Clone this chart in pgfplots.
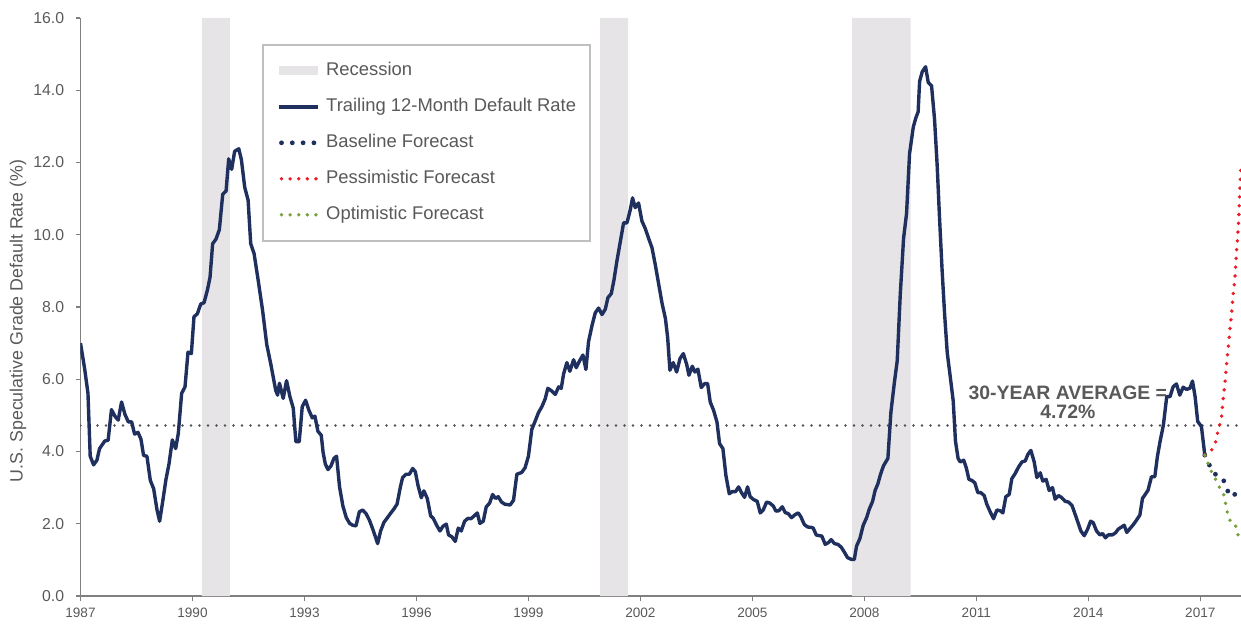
\documentclass[border=0pt]{standalone}
\usepackage{pgfplots}
\pgfplotsset{compat=1.18}
\usepackage{fontspec}
\setmainfont{Liberation Sans}
\definecolor{navy}{RGB}{31,48,94}
\definecolor{txtgray}{RGB}{89,89,89}
\definecolor{recgray}{RGB}{230,228,230}
\definecolor{fred}{RGB}{237,28,36}
\definecolor{fgreen}{RGB}{122,160,60}
\definecolor{lgdgray}{RGB}{191,191,191}
\definecolor{axgray}{RGB}{128,128,128}
\definecolor{avggray}{RGB}{80,80,80}
\begin{document}
\begin{tikzpicture}
\useasboundingbox (-40.25pt,-15pt) rectangle (580.25pt,298pt);
\begin{axis}[
  scale only axis, width=580.25pt, height=289pt,
  xmin=1987, xmax=2018.09, ymin=0, ymax=16,
  axis x line*=bottom, axis y line*=left,
  axis line style={axgray, line width=0.8pt, -},
  tick align=outside, major tick length=2.5pt,
  tick style={axgray, line width=0.6pt},
  xtick={1987,1990,1993,1996,1999,2002,2005,2008,2011,2014,2017},
  ytick={0,2,4,6,8,10,12,14,16},
  x tick label style={/pgf/number format/1000 sep={}, font=\fontsize{6.8}{8}\selectfont, text=txtgray},
  y tick label style={/pgf/number format/.cd, fixed, fixed zerofill, precision=1, /tikz/.cd, font=\fontsize{7.9}{9}\selectfont, text=txtgray, xshift=-2.2pt},
  /pgf/number format/assume math mode=true,
  ylabel={U.S. Speculative Grade Default Rate (\%)},
  ylabel style={at={(axis description cs:-0.0539,0.476)}, anchor=center, font=\fontsize{8.9}{10}\selectfont, text=txtgray},
  legend style={at={(0.1564,0.955)}, anchor=north west, draw=lgdgray, line width=0.8pt,
    font=\fontsize{9.2}{11}\selectfont, text=txtgray, inner xsep=7pt, inner ysep=8.5pt,
    row sep=9pt, nodes={inner sep=0pt, text height=7pt, text depth=2pt},
    /tikz/every odd column/.append style={column sep=3.5pt}},
  legend cell align=left,
  legend columns=1,
]
% recession bands
\addplot[fill=recgray, draw=none, legend image code/.code={\fill[recgray] (0pt,-2.2pt) rectangle (19.5pt,2.2pt);}]
  coordinates {(1990.25,0) (1990.25,16) (1991.0,16) (1991.0,0)} \closedcycle;
\addlegendentry{Recession}
\addplot[fill=recgray, draw=none, forget plot] coordinates {(2000.92,0) (2000.92,16) (2001.67,16) (2001.67,0)} \closedcycle;
\addplot[fill=recgray, draw=none, forget plot] coordinates {(2007.67,0) (2007.67,16) (2009.24,16) (2009.24,0)} \closedcycle;
% 30-year average
\addplot[avggray, line width=1.4pt, line cap=round, dash pattern=on 0pt off 4.25pt, forget plot] coordinates {(1987,4.72) (2018.09,4.72)};
% trailing 12-month default rate
\addplot[navy, line width=1.7pt, line join=round, legend image code/.code={\draw[navy, line width=1.7pt] (0pt,0pt) -- (19.5pt,0pt);}] table {
1987.00 7.00
1987.11 6.30
1987.20 5.61
1987.26 3.87
1987.35 3.63
1987.44 3.76
1987.51 4.08
1987.65 4.29
1987.74 4.31
1987.83 5.16
1987.92 4.98
1988.01 4.87
1988.10 5.37
1988.19 5.03
1988.28 4.82
1988.37 4.82
1988.45 4.48
1988.54 4.53
1988.62 4.34
1988.69 3.89
1988.78 3.87
1988.87 3.20
1988.96 2.97
1989.05 2.38
1989.12 2.07
1989.20 2.60
1989.29 3.23
1989.37 3.65
1989.46 4.32
1989.55 4.08
1989.62 4.50
1989.71 5.61
1989.80 5.79
1989.88 6.75
1989.97 6.71
1990.04 7.73
1990.13 7.81
1990.22 8.08
1990.31 8.12
1990.40 8.47
1990.47 8.82
1990.54 9.75
1990.63 9.88
1990.72 10.14
1990.81 11.12
1990.90 11.21
1990.97 12.10
1991.05 11.81
1991.13 12.31
1991.24 12.38
1991.31 12.08
1991.40 11.31
1991.49 10.96
1991.56 9.75
1991.65 9.48
1991.76 8.74
1991.88 7.89
1991.99 6.96
1992.10 6.41
1992.23 5.69
1992.28 5.56
1992.33 5.89
1992.43 5.47
1992.52 5.96
1992.61 5.52
1992.70 5.20
1992.77 4.27
1992.86 4.27
1992.94 5.24
1993.03 5.42
1993.12 5.14
1993.21 4.93
1993.28 4.98
1993.36 4.56
1993.45 4.45
1993.50 3.97
1993.56 3.65
1993.63 3.50
1993.71 3.60
1993.79 3.81
1993.86 3.87
1993.94 3.02
1994.03 2.49
1994.12 2.17
1994.21 2.01
1994.29 1.96
1994.38 1.94
1994.47 2.33
1994.56 2.38
1994.65 2.28
1994.74 2.10
1994.83 1.85
1994.90 1.64
1994.96 1.45
1995.04 1.80
1995.13 2.04
1995.21 2.15
1995.30 2.28
1995.39 2.40
1995.48 2.54
1995.57 3.02
1995.63 3.28
1995.72 3.37
1995.81 3.37
1995.90 3.53
1995.97 3.44
1996.04 3.07
1996.13 2.72
1996.20 2.91
1996.29 2.70
1996.38 2.22
1996.45 2.15
1996.54 1.96
1996.63 1.80
1996.71 1.93
1996.80 1.99
1996.86 1.69
1996.95 1.64
1997.04 1.51
1997.12 1.88
1997.20 1.80
1997.29 2.07
1997.38 2.15
1997.46 2.14
1997.55 2.22
1997.63 2.30
1997.70 2.01
1997.79 2.07
1997.87 2.47
1997.96 2.57
1998.04 2.81
1998.12 2.70
1998.19 2.75
1998.28 2.60
1998.37 2.54
1998.51 2.52
1998.60 2.65
1998.69 3.37
1998.82 3.42
1998.91 3.55
1999.00 3.87
1999.09 4.61
1999.18 4.84
1999.27 5.08
1999.36 5.24
1999.45 5.46
1999.52 5.75
1999.63 5.67
1999.72 5.58
1999.81 5.79
1999.88 5.75
1999.94 6.14
2000.03 6.46
2000.11 6.22
2000.21 6.54
2000.28 6.32
2000.37 6.51
2000.46 6.67
2000.54 6.27
2000.61 7.04
2000.70 7.47
2000.79 7.84
2000.88 7.97
2000.97 7.79
2001.06 7.94
2001.13 8.26
2001.22 8.37
2001.29 8.74
2001.37 9.27
2001.46 9.80
2001.55 10.33
2001.64 10.33
2001.73 10.70
2001.79 11.02
2001.86 10.75
2001.95 10.88
2002.04 10.38
2002.13 10.17
2002.22 9.90
2002.31 9.64
2002.40 9.16
2002.49 8.63
2002.58 8.10
2002.67 7.68
2002.73 7.15
2002.79 6.25
2002.88 6.46
2002.97 6.20
2003.06 6.57
2003.15 6.71
2003.24 6.41
2003.30 6.11
2003.39 6.36
2003.46 6.20
2003.54 6.28
2003.63 5.77
2003.72 5.88
2003.80 5.88
2003.87 5.37
2003.96 5.14
2004.05 4.82
2004.12 4.22
2004.21 4.08
2004.29 3.34
2004.38 2.83
2004.46 2.89
2004.55 2.89
2004.63 3.02
2004.71 2.86
2004.79 2.73
2004.87 3.02
2004.94 2.75
2005.03 2.67
2005.13 2.62
2005.21 2.30
2005.29 2.38
2005.38 2.60
2005.47 2.57
2005.56 2.49
2005.63 2.35
2005.71 2.36
2005.80 2.47
2005.88 2.31
2005.96 2.28
2006.05 2.17
2006.14 2.25
2006.23 2.30
2006.30 2.19
2006.39 1.98
2006.48 1.91
2006.57 1.90
2006.63 1.88
2006.71 1.69
2006.79 1.67
2006.86 1.66
2006.95 1.43
2007.04 1.48
2007.11 1.56
2007.20 1.45
2007.29 1.43
2007.38 1.35
2007.46 1.22
2007.55 1.06
2007.66 1.01
2007.73 1.01
2007.79 1.38
2007.88 1.59
2007.97 1.96
2008.06 2.17
2008.13 2.40
2008.22 2.62
2008.29 2.93
2008.36 3.10
2008.43 3.36
2008.51 3.60
2008.63 3.81
2008.71 5.08
2008.80 5.88
2008.88 6.51
2008.96 8.32
2009.05 9.90
2009.13 10.59
2009.21 12.24
2009.31 12.98
2009.38 13.24
2009.44 13.40
2009.48 14.25
2009.55 14.51
2009.64 14.65
2009.71 14.22
2009.80 14.12
2009.88 13.19
2009.95 11.92
2010.01 10.54
2010.08 9.06
2010.15 7.79
2010.22 6.73
2010.31 5.99
2010.38 5.40
2010.44 4.29
2010.51 3.81
2010.57 3.71
2010.66 3.76
2010.73 3.55
2010.80 3.23
2010.88 3.20
2010.96 3.13
2011.04 2.86
2011.12 2.86
2011.21 2.78
2011.28 2.54
2011.37 2.33
2011.46 2.14
2011.55 2.38
2011.64 2.36
2011.71 2.30
2011.79 2.75
2011.88 2.81
2011.95 3.25
2012.04 3.39
2012.13 3.57
2012.22 3.71
2012.31 3.74
2012.38 3.92
2012.46 4.03
2012.55 3.71
2012.62 3.28
2012.71 3.41
2012.78 3.18
2012.87 3.23
2012.95 2.92
2013.04 3.00
2013.11 2.68
2013.20 2.78
2013.29 2.72
2013.38 2.62
2013.47 2.60
2013.56 2.51
2013.64 2.28
2013.73 2.01
2013.80 1.80
2013.89 1.67
2013.98 1.85
2014.06 2.07
2014.13 2.03
2014.22 1.80
2014.31 1.69
2014.38 1.73
2014.46 1.61
2014.53 1.69
2014.64 1.69
2014.73 1.75
2014.80 1.85
2014.89 1.91
2014.96 1.96
2015.03 1.76
2015.11 1.86
2015.20 1.97
2015.29 2.10
2015.38 2.24
2015.45 2.70
2015.60 2.93
2015.69 3.30
2015.78 3.30
2015.85 3.86
2015.92 4.27
2016.01 4.73
2016.10 5.52
2016.19 5.52
2016.27 5.79
2016.36 5.87
2016.45 5.56
2016.54 5.78
2016.63 5.72
2016.72 5.75
2016.79 5.95
2016.86 5.52
2016.93 4.83
2017.03 4.69
2017.12 3.90
};
\addlegendentry{Trailing 12-Month Default Rate}
% forecasts
\addplot[navy, line width=2.4pt, line cap=round, dash pattern=on 0pt off 5.5pt,
  legend image code/.code={\draw[navy, line width=2.4pt, line cap=round, dash pattern=on 0pt off 5.4pt] (1.5pt,0pt) -- (18pt,0pt);}] table {
2017.12 3.90
2017.24 3.63
2017.39 3.38
2017.61 3.24
2017.70 2.98
2017.81 2.75
2017.97 2.84
2018.09 2.68
};
\addlegendentry{Baseline Forecast}
\addplot[fred, line width=1.9pt, line cap=round, dash pattern=on 0pt off 4.4pt,
  legend image code/.code={\draw[fred, line width=1.9pt, line cap=round, dash pattern=on 0pt off 4.3pt] (1.5pt,0pt) -- (18.7pt,0pt);}] table {
2017.12 3.90
2017.30 4.04
2017.41 4.27
2017.46 4.50
2017.52 4.73
2017.57 4.96
2017.61 5.43
2017.66 5.89
2017.70 6.39
2017.75 6.90
2017.79 7.36
2017.84 7.84
2017.88 8.33
2017.93 8.84
2017.97 9.53
2018.02 10.24
2018.06 11.22
2018.09 11.98
};
\addlegendentry{Pessimistic Forecast}
\addplot[fgreen, line width=1.9pt, line cap=round, dash pattern=on 0pt off 4.4pt,
  legend image code/.code={\draw[fgreen, line width=1.9pt, line cap=round, dash pattern=on 0pt off 4.3pt] (1.5pt,0pt) -- (18.7pt,0pt);}] table {
2017.12 3.90
2017.21 3.67
2017.30 3.44
2017.41 3.23
2017.51 3.01
2017.63 2.80
2017.72 2.33
2017.79 2.10
2017.93 2.01
2017.98 1.78
2018.06 1.55
};
\addlegendentry{Optimistic Forecast}
\node[font=\bfseries\fontsize{9.7}{9.5}\selectfont, text=txtgray, align=center, anchor=center] at (axis cs:2013.45,5.36) {30-YEAR AVERAGE =\\4.72\%};
\end{axis}
\end{tikzpicture}
\end{document}
